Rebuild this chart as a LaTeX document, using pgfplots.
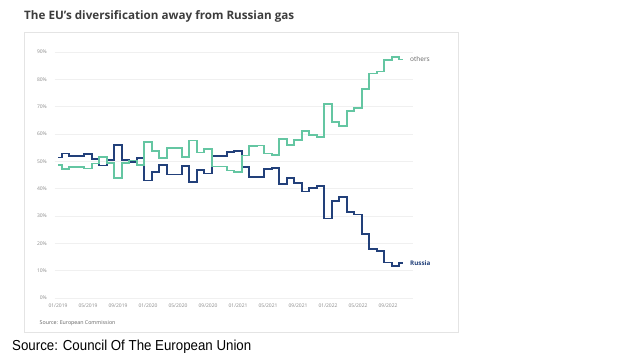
\documentclass[border=0pt]{standalone}
\usepackage{fontspec}
\setmainfont{Open Sans}
\newfontfamily\arialfont{Liberation Sans}
\usepackage{pgfplots}
\usepackage{pgfplotstable}
\pgfplotsset{compat=1.18}
\definecolor{rus}{HTML}{22407A}
\definecolor{oth}{HTML}{64C6A2}
\definecolor{gridc}{HTML}{F0F0F0}
\definecolor{tickc}{HTML}{8A8A8A}
\definecolor{titlec}{HTML}{3D3D3D}
\definecolor{boxc}{HTML}{E4E4E4}

\pgfplotstableread{
m R O
0 51.4 48.6
1 52.9 47.1
2 52.0 48.0
3 52.0 48.0
4 52.6 47.4
5 50.8 49.2
6 48.5 51.5
7 50.5 49.5
8 56.1 43.9
9 50.5 49.5
10 49.7 50.3
11 51.3 48.7
12 43.0 57.0
13 46.2 53.8
14 48.7 51.3
15 45.2 54.8
16 45.2 54.8
17 48.4 51.6
18 42.4 57.6
19 46.8 53.2
20 45.5 54.5
21 51.9 48.1
22 51.9 48.1
23 53.3 46.7
24 53.9 46.1
25 47.8 52.2
26 44.3 55.7
27 44.2 55.8
28 47.2 52.8
29 47.6 52.4
30 41.8 58.2
31 44.0 56.0
32 42.2 57.8
33 39.0 61.0
34 40.3 59.7
35 41.0 59.0
36 29.1 70.9
37 35.5 64.5
38 37.0 63.0
39 31.5 68.5
40 30.5 69.5
41 23.5 76.5
42 17.8 82.2
43 17.2 82.8
44 13.0 87.0
45 11.8 88.2
46 12.8 87.2
}\gas

\begin{document}
\begin{tikzpicture}
\useasboundingbox (0,0) rectangle (621bp,355bp);
\fill[white] (0,0) rectangle (621bp,355bp);
\draw[boxc, line width=0.8bp] (24bp,23bp) rectangle (458bp,323bp);
\node[anchor=base west, font=\bfseries\fontsize{11.7}{13}\selectfont, text=titlec, inner sep=0] at (24bp,335bp) {The EU's diversification away from Russian gas};
\node[anchor=base west, font=\fontsize{5.3}{6}\selectfont, text=tickc!70!black, inner sep=0] at (39.5bp,31bp) {Source: European Commission};
\node[anchor=base west, font=\arialfont\fontsize{14.5}{17}\selectfont, inner sep=0, xscale=0.92, transform shape] at (12bp,4.5bp) {Source: Council Of The European Union};
\begin{axis}[
  at={(55bp,57bp)}, anchor=south west,
  scale only axis, width=358bp, height=246bp,
  xmin=-0.4, xmax=47.33, ymin=0, ymax=90,
  axis line style={draw=none},
  major tick length=0,
  ytick={0,10,...,90},
  yticklabels={0\%,10\%,20\%,30\%,40\%,50\%,60\%,70\%,80\%,90\%},
  ymajorgrids, grid style={gridc, line width=0.6bp},
  xtick={0,4,...,44},
  xticklabels={01/2019,05/2019,09/2019,01/2020,05/2020,09/2020,01/2021,05/2021,09/2021,01/2022,05/2022,09/2022},
  /pgf/number format/assume math mode=true,
  ticklabel style={font=\fontsize{5}{6}\selectfont, text=tickc, inner sep=0pt},
  yticklabel style={anchor=east, xshift=-8bp},
  xticklabel style={anchor=center, yshift=-7.5bp},
  clip=false,
]
\addplot[const plot mark mid, rus, line width=1.7bp] table[x=m, y=R] {\gas};
\addplot[const plot mark mid, oth, line width=1.6bp] table[x=m, y=O] {\gas};
\node[anchor=west, inner sep=0, font=\fontsize{6.5}{7}\selectfont, text=titlec!80] at (axis cs:46.93,87.3) {others};
\node[anchor=west, inner sep=0, font=\bfseries\fontsize{6.3}{7}\selectfont, text=rus] at (axis cs:46.93,12.9) {Russia};
\end{axis}
\end{tikzpicture}
\end{document}
